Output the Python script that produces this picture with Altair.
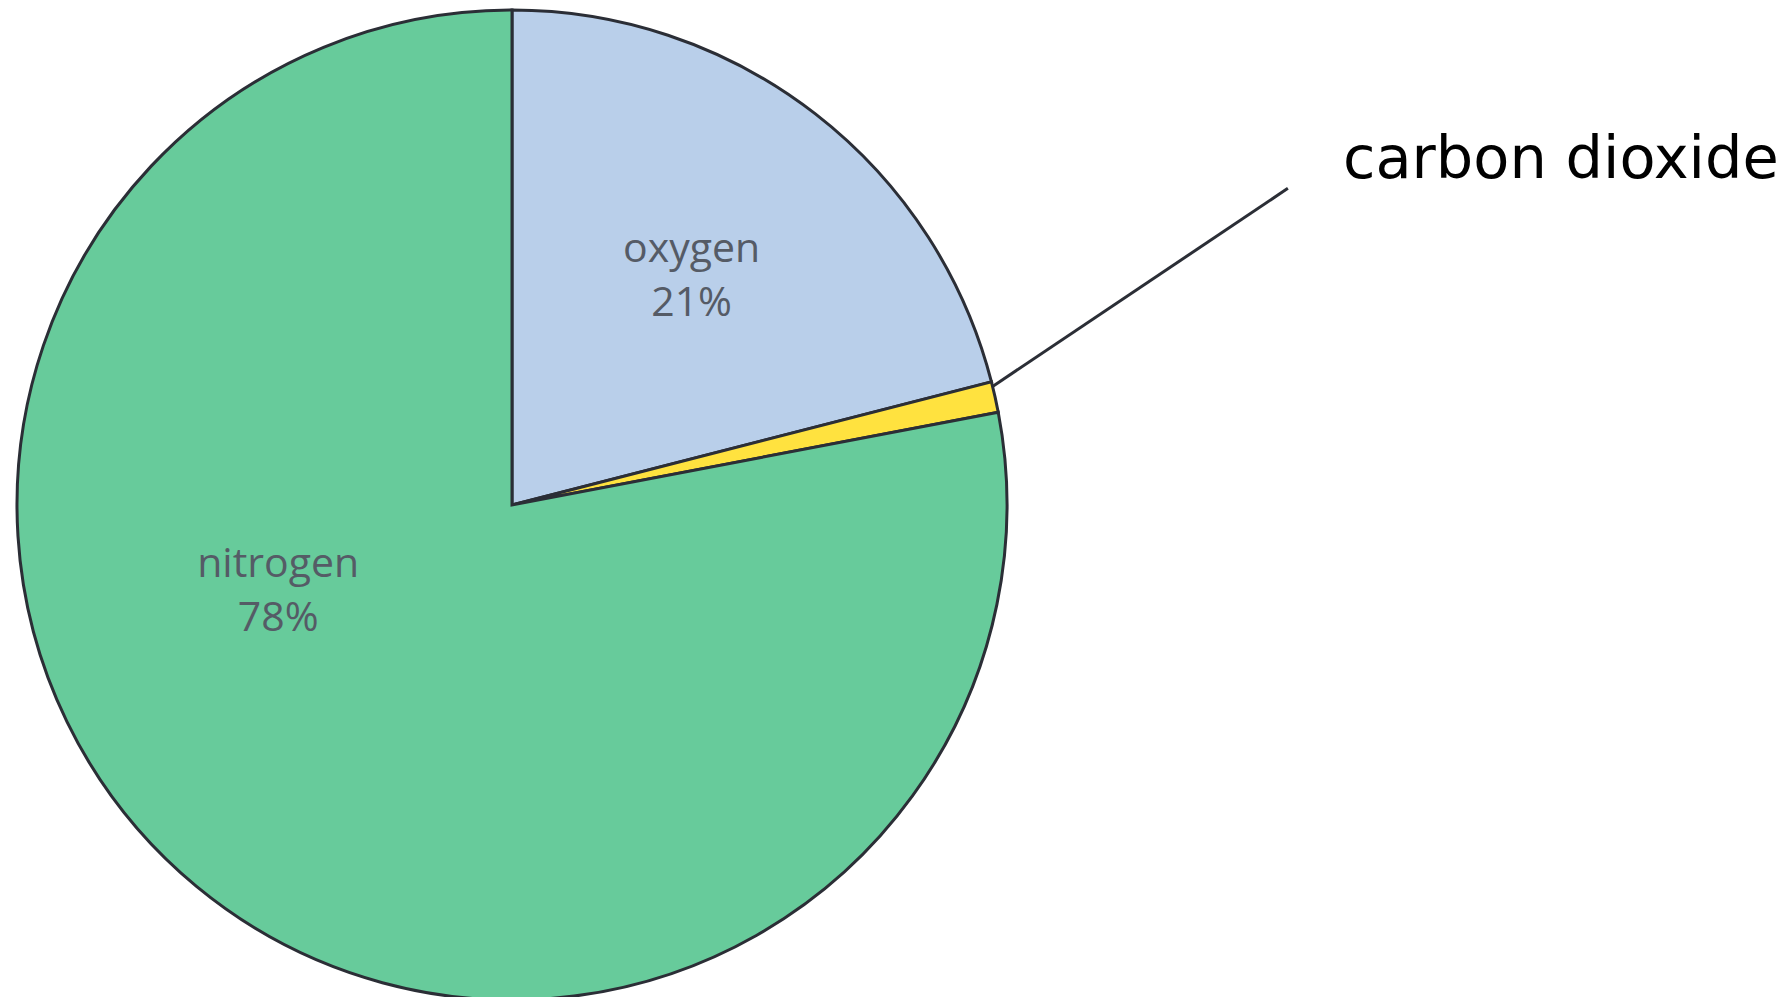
import math
import altair as alt
import pandas as pd

gases = ["oxygen", "carbon dioxide", "nitrogen"]
percents = [21, 1, 78]
labels = ["oxygen\n21%", "", "nitrogen\n78%"]
colors = ["#B9CFEA", "#FFE23F", "#67CB9B"]
order = [1, 2, 3]

df = pd.DataFrame({"gas": gases, "pct": percents, "label": labels, "ord": order})

CX, CY, R = 504, 497, 495
STROKE = "#2b2e36"

base = alt.Chart(df).encode(
    theta=alt.Theta("pct:Q", stack=True),
    order=alt.Order("ord:Q"),
    x=alt.value(CX),
    y=alt.value(CY),
)

pie = base.mark_arc(radius=R, stroke=STROKE, strokeWidth=3).encode(
    color=alt.Color("gas:N", scale=alt.Scale(domain=gases, range=colors), legend=None)
)

text_style = dict(font="Open Sans", fontSize=41, color="#555b66", lineBreak="\n",
                  lineHeight=54, align="center", baseline="middle")

oxy_text = base.mark_text(radius=293, dy=-23, **text_style).transform_calculate(
    t="datum.gas == 'oxygen' ? datum.label : ''"
).encode(text="t:N")

nit_text = base.mark_text(radius=248, thetaOffset=0.54, dy=-23, **text_style).transform_calculate(
    t="datum.gas == 'nitrogen' ? datum.label : ''"
).encode(text="t:N")

# leader line for carbon dioxide
total = sum(percents)
co2_start = (percents[0] + 0.15) / total * 2 * math.pi
a_end = math.radians(67.8)
line_df = pd.DataFrame({
    "px": [CX + R * math.sin(co2_start), CX + 838 * math.sin(a_end)],
    "py": [CY - R * math.cos(co2_start), CY - 838 * math.cos(a_end)],
})
leader = alt.Chart(line_df).mark_line(color=STROKE, strokeWidth=3).encode(
    x=alt.X("px:Q", scale=None, axis=None),
    y=alt.Y("py:Q", scale=None, axis=None),
)

co2_df = pd.DataFrame({"name": [gases[1]]})
co2_label = alt.Chart(co2_df).mark_text(
    font="DejaVu Sans", fontSize=59, color="#000000", align="left", baseline="middle"
).encode(
    text="name:N",
    x=alt.value(1335),
    y=alt.value(152),
)

chart = alt.layer(pie, oxy_text, nit_text, leader, co2_label).properties(
    width=1773, height=989, padding=0, autosize=alt.AutoSizeParams(type="none"),
    background="white",
).configure_view(stroke=None)

chart.save("out.html", embed_options={"renderer": "svg", "actions": False})
